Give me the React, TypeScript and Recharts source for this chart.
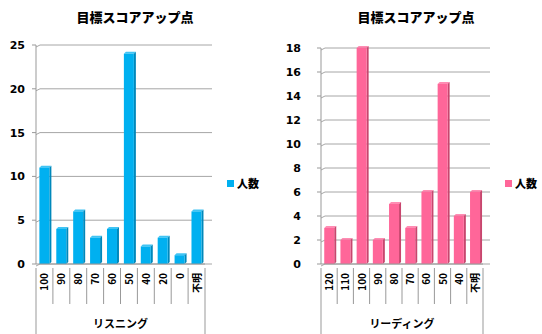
import React from 'react';
import { BarChart, Bar, XAxis, YAxis, CartesianGrid } from 'recharts';

// left panel: listening
const listenCats = ['100', '90', '80', '70', '60', '50', '40', '20', '0', '不明'];
const listenVals = [11, 4, 6, 3, 4, 24, 2, 3, 1, 6];
const listenTicks = [0, 5, 10, 15, 20, 25];

// right panel: reading
const readCats = ['120', '110', '100', '90', '80', '70', '60', '50', '40', '不明'];
const readVals = [3, 2, 18, 2, 5, 3, 6, 15, 4, 6];
const readTicks = [0, 2, 4, 6, 8, 10, 12, 14, 16, 18];

const TITLE = '目標スコアアップ点';
const SERIES = '人数';
const JP = '"Noto Sans CJK JP", "Liberation Sans", sans-serif';
const NUM = '"DejaVu Sans", "Liberation Sans", sans-serif';

const Bar3D = (props: any) => {
  const { x, y, width, height, fill, side } = props;
  if (!height || height <= 0) return null;
  const d = 2;
  return (
    <g>
      <polygon points={`${x},${y} ${x + d},${y - d} ${x + width + d},${y - d} ${x + width},${y}`} fill={fill} opacity={0.75} />
      <polygon points={`${x + width},${y} ${x + width + d},${y - d} ${x + width + d},${y + height - d} ${x + width},${y + height}`} fill={side} />
      <rect x={x} y={y} width={width} height={height} fill={fill} />
    </g>
  );
};

// 3D-ish gridline: short slant at the wall, then running past the last band
const GridLine = (p: any) => (
  <g>
    <line x1={p.x1} y1={p.y1 + 2} x2={p.x1 + 4} y2={p.y1} stroke="#a6a6a6" />
    <line x1={p.x1 + 4} y1={p.y1} x2={p.x2 + 7} y2={p.y2} stroke="#a6a6a6" />
  </g>
);

const makeTick = (bw: number, n: number) => (props: any) => {
  const { x, y, payload, index } = props;
  const top = y - 2;
  return (
    <g>
      <line x1={x - bw / 2} y1={top - 2} x2={x - bw / 2} y2={index === 0 ? 340 : top + 34} stroke="#999" />
      {index === n - 1 && <line x1={x + bw / 2} y1={top - 2} x2={x + bw / 2} y2={340} stroke="#999" />}
      <text
        x={0}
        y={0}
        transform={`translate(${x + 4},${top + 3}) rotate(-90)`}
        textAnchor="end"
        fontSize={10}
        fontWeight="bold"
        fontFamily={JP}
        fill="#000"
      >
        {payload.value}
      </text>
    </g>
  );
};

type PanelProps = {
  cats: string[];
  vals: number[];
  ticks: number[];
  axisLabel: string;
  color: string;
  side: string;
  yw: number;
  top: number;
  plotW: number;
  titleX: number;
  legendLeft: number;
  tickGap: number;
};

const Panel = ({ cats, vals, ticks, axisLabel, color, side, yw, top, plotW, titleX, legendLeft, tickGap }: PanelProps) => {
  const data = cats.map((c, i) => ({ cat: c, v: vals[i] }));
  const W = 271;
  const H = 334;
  const bw = plotW / cats.length;
  return (
    <div style={{ position: 'relative', width: W, height: H, flex: 'none' }}>
      <div
        style={{
          position: 'absolute',
          top: 7,
          left: titleX - 80,
          width: 160,
          textAlign: 'center',
          fontFamily: JP,
          fontWeight: 900,
          fontSize: 13,
          color: '#000',
          whiteSpace: 'nowrap',
        }}
      >
        {TITLE}
      </div>
      <div
        style={{
          position: 'absolute',
          top: 175,
          left: legendLeft,
          display: 'flex',
          alignItems: 'center',
          fontFamily: JP,
          fontWeight: 900,
          fontSize: 11,
          color: '#000',
        }}
      >
        <span style={{ display: 'inline-block', width: 7, height: 7, background: color, marginRight: 3 }} />
        {SERIES}
      </div>
      <BarChart
        width={W}
        height={H}
        data={data}
        margin={{ top, left: 0, right: W - yw - plotW, bottom: 0 }}
        barCategoryGap="20%"
      >
        <CartesianGrid vertical={false} horizontal={GridLine} />
        <XAxis
          dataKey="cat"
          interval={0}
          height={70}
          tickLine={false}
          axisLine={{ stroke: '#999' }}
          tick={makeTick(bw, cats.length)}
          label={{
            value: axisLabel,
            position: 'insideBottom',
            offset: 6,
            fontSize: 11,
            fontWeight: 'bold',
            fontFamily: JP,
            fill: '#000',
          }}
        />
        <YAxis
          width={yw}
          domain={[0, ticks[ticks.length - 1]]}
          ticks={ticks}
          interval={0}
          tickSize={4}
          tickMargin={tickGap}
          tickLine={{ stroke: '#999' }}
          axisLine={{ stroke: '#999' }}
          tick={{ fontSize: 11, fontWeight: 'bold', fontFamily: NUM, fill: '#000' }}
        />
        <Bar
          dataKey="v"
          name={SERIES}
          fill={color}
          isAnimationActive={false}
          shape={(p: any) => <Bar3D {...p} side={side} />}
        />
      </BarChart>
    </div>
  );
};

export default function App() {
  return (
    <div style={{ position: 'absolute', left: 0, top: 0, width: 542, height: 334, background: '#fff', display: 'flex' }}>
      <Panel
        cats={listenCats}
        vals={listenVals}
        ticks={listenTicks}
        axisLabel="リスニング"
        color="#00B0F0"
        side="#0088bb"
        yw={36}
        top={45}
        plotW={169}
        titleX={135}
        legendLeft={227}
        tickGap={7}
      />
      <Panel
        cats={readCats}
        vals={readVals}
        ticks={readTicks}
        axisLabel="リーディング"
        color="#FF6699"
        side="#c8466e"
        yw={50}
        top={48}
        plotW={162}
        titleX={145}
        legendLeft={234}
        tickGap={16}
      />
    </div>
  );
}
